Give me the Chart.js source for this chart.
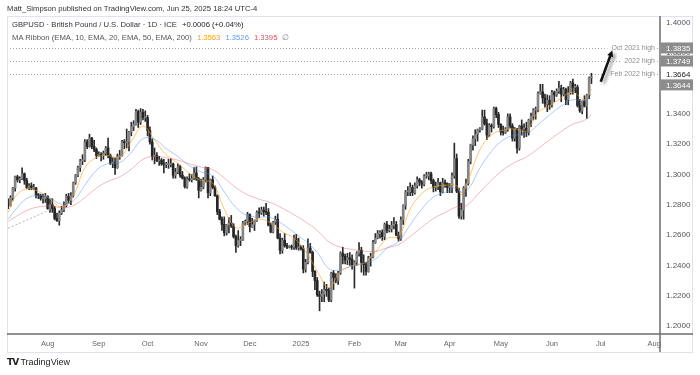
<!DOCTYPE html>
<html>
<head>
<meta charset="utf-8">
<title>GBPUSD 1D</title>
<script src="https://cdn.jsdelivr.net/npm/chart.js@4.4.1/dist/chart.umd.min.js"></script>
<style>
  html, body { margin: 0; padding: 0; background: #fff; }
  #wrap { position: relative; width: 700px; height: 375px; font-family: "Liberation Sans", Arial, sans-serif; }
  #chart { position: absolute; left: 0; top: 0; }
  .txt { position: absolute; white-space: nowrap; line-height: 1; }
  .sp { margin-left: 5px; }
</style>
</head>
<body>
<div id="wrap">
  <canvas id="chart" width="700" height="375"></canvas>
  <div class="txt" style="left:7px;top:5px;font-size:7.7px;color:#333">Matt_Simpson published on TradingView.com, Jun 25, 2025 18:24 UTC-4</div>
  <div class="txt" style="left:12px;top:21px;font-size:7.7px;color:#333">GBPUSD · British Pound / U.S. Dollar · 1D · ICE<span class="sp" style="color:#222">+0.0006 (+0.04%)</span></div>
  <div class="txt" style="left:12px;top:34px;font-size:7.7px;color:#555">MA Ribbon (EMA, 10, EMA, 20, EMA, 50, EMA, 200)<span class="sp" style="color:#f7a21b">1.3563</span><span class="sp" style="color:#5b9cf6">1.3526</span><span class="sp" style="color:#e0505e">1.3395</span><span class="sp" style="color:#888">∅</span></div>
  <div class="txt" style="left:7px;top:358px;font-size:9px;color:#222"><b style="font-family:'DejaVu Sans';font-size:9px;letter-spacing:-1px">TV</b> TradingView</div>
</div>
<script>
// trading days on the axis (weekdays), data runs to Jun 25 2025
const firstDay = '2024-07-09';
const lastDay = '2025-08-05';
const monthTickLabels = ['2025', 'Feb', 'Mar', 'Apr', 'May', 'Jun', 'Jul', 'Aug', 'Sep', 'Oct', 'Nov', 'Dec'];

// daily OHLC, one line per month (Jul 2024 .. Jun 2025)
const openPrices = [
  1.2810,1.2795,1.2845,1.2910,1.2985,1.2965,1.2970,1.3005,1.2960,1.2915,1.2925,1.2910,1.2910,1.2865,1.2860,1.2840,1.2840,
  1.2855,1.2775,1.2800,1.2775,1.2710,1.2695,1.2745,1.2765,1.2795,1.2855,1.2830,1.2860,1.2945,1.2995,1.3045,1.3090,1.3095,1.3215,1.3185,1.3240,1.3185,1.3165,
  1.3125,1.3130,1.3125,1.3140,1.3175,1.3125,1.3075,1.3080,1.3045,1.3120,1.3125,1.3215,1.3210,1.3215,1.3280,1.3315,1.3330,1.3415,1.3345,1.3410,1.3375,
  1.3375,1.3290,1.3215,1.3120,1.3125,1.3090,1.3095,1.3070,1.3065,1.3065,1.3065,1.3070,1.2995,1.3015,1.3050,1.2995,1.2975,1.2920,1.2970,1.2965,1.2975,1.3010,1.2970,
  1.2895,1.2915,1.2965,1.3045,1.2880,1.2965,1.2915,1.2860,1.2755,1.2705,1.2670,1.2615,1.2665,1.2680,1.2660,1.2590,1.2530,1.2565,1.2570,1.2680,1.2690,
  1.2735,1.2655,1.2670,1.2695,1.2750,1.2745,1.2765,1.2755,1.2750,1.2665,1.2620,1.2685,1.2705,1.2580,1.2500,1.2565,1.2530,1.2520,1.2525,1.2520,1.2575,1.2515,
  1.2515,1.2510,1.2375,1.2420,1.2515,1.2485,1.2360,1.2300,1.2205,1.2195,1.2210,1.2240,1.2235,1.2170,1.2350,1.2320,1.2300,1.2350,1.2480,1.2460,1.2435,1.2450,1.2440,
  1.2400,1.2420,1.2480,1.2500,1.2420,1.2405,1.2360,1.2450,1.2455,1.2550,1.2580,1.2610,1.2620,1.2590,1.2670,1.2630,1.2640,1.2665,1.2670,1.2600,
  1.2575,1.2700,1.2795,1.2885,1.2885,1.2915,1.2880,1.2925,1.2965,1.2950,1.2935,1.2990,1.2990,1.3005,1.2960,1.2915,1.2920,1.2945,1.2885,1.2945,1.2940,
  1.2915,1.2915,1.2990,1.3105,1.2890,1.2725,1.2765,1.2910,1.2940,1.3085,1.3195,1.3235,1.3265,1.3295,1.3300,1.3380,1.3335,1.3260,1.3325,1.3315,1.3435,1.3395,
  1.3330,1.3280,1.3275,1.3300,1.3380,1.3320,1.3240,1.3300,1.3175,1.3320,1.3300,1.3305,1.3280,1.3360,1.3385,1.3425,1.3425,1.3535,1.3545,1.3505,1.3465,1.3490,
  1.3460,1.3540,1.3525,1.3550,1.3570,1.3530,1.3560,1.3495,1.3540,1.3605,1.3575,1.3575,1.3455,1.3420,1.3485,1.3450,1.3525,1.3638
];
const highPrices = [
  1.2840,1.2860,1.2915,1.2990,1.2995,1.2985,1.3044,1.3010,1.2975,1.2940,1.2945,1.2935,1.2915,1.2875,1.2870,1.2870,1.2875,
  1.2860,1.2840,1.2840,1.2790,1.2745,1.2760,1.2790,1.2820,1.2870,1.2875,1.2880,1.2950,1.3000,1.3055,1.3100,1.3130,1.3230,1.3230,1.3266,1.3245,1.3225,1.3175,
  1.3150,1.3145,1.3155,1.3185,1.3240,1.3135,1.3110,1.3110,1.3135,1.3160,1.3225,1.3230,1.3300,1.3285,1.3345,1.3355,1.3430,1.3425,1.3435,1.3430,1.3420,
  1.3390,1.3315,1.3235,1.3175,1.3145,1.3120,1.3105,1.3100,1.3080,1.3100,1.3105,1.3075,1.3040,1.3070,1.3060,1.3020,1.2985,1.2985,1.3005,1.3000,1.3045,1.3050,1.2980,
  1.2970,1.2980,1.3050,1.3047,1.2970,1.2990,1.2925,1.2865,1.2770,1.2720,1.2720,1.2670,1.2715,1.2730,1.2675,1.2600,1.2630,1.2590,1.2690,1.2700,1.2750,
  1.2740,1.2710,1.2700,1.2760,1.2780,1.2785,1.2785,1.2810,1.2775,1.2680,1.2690,1.2725,1.2740,1.2610,1.2580,1.2610,1.2545,1.2530,1.2535,1.2600,1.2605,1.2580,
  1.2530,1.2530,1.2440,1.2575,1.2545,1.2495,1.2365,1.2320,1.2230,1.2240,1.2290,1.2275,1.2250,1.2355,1.2365,1.2345,1.2360,1.2490,1.2520,1.2475,1.2480,1.2485,1.2470,
  1.2430,1.2490,1.2550,1.2520,1.2470,1.2420,1.2460,1.2480,1.2565,1.2610,1.2630,1.2630,1.2635,1.2680,1.2690,1.2665,1.2690,1.2715,1.2690,1.2620,
  1.2720,1.2800,1.2895,1.2920,1.2945,1.2930,1.2945,1.2985,1.2975,1.2960,1.3000,1.3015,1.3015,1.3015,1.2970,1.2950,1.2975,1.2950,1.2975,1.2965,1.2945,
  1.2940,1.3010,1.3207,1.3135,1.2910,1.2810,1.2920,1.2970,1.3100,1.3200,1.3255,1.3295,1.3300,1.3310,1.3425,1.3425,1.3365,1.3335,1.3335,1.3445,1.3445,1.3410,
  1.3335,1.3320,1.3310,1.3400,1.3400,1.3335,1.3310,1.3305,1.3325,1.3360,1.3335,1.3345,1.3365,1.3405,1.3435,1.3445,1.3545,1.3595,1.3595,1.3530,1.3525,1.3520,
  1.3555,1.3550,1.3565,1.3615,1.3590,1.3575,1.3570,1.3580,1.3615,1.3630,1.3595,1.3590,1.3495,1.3485,1.3520,1.3530,1.3645,1.3668
];
const lowPrices = [
  1.2775,1.2790,1.2830,1.2890,1.2950,1.2945,1.2965,1.2935,1.2905,1.2900,1.2900,1.2900,1.2845,1.2840,1.2830,1.2810,1.2815,
  1.2770,1.2750,1.2750,1.2700,1.2690,1.2665,1.2735,1.2755,1.2785,1.2810,1.2800,1.2850,1.2935,1.2985,1.3020,1.3065,1.3085,1.3170,1.3180,1.3170,1.3150,1.3105,
  1.3120,1.3090,1.3100,1.3125,1.3110,1.3065,1.3045,1.3000,1.3040,1.3100,1.3120,1.3170,1.3175,1.3155,1.3255,1.3290,1.3325,1.3310,1.3330,1.3360,1.3350,
  1.3255,1.3200,1.3095,1.3070,1.3085,1.3060,1.3060,1.3010,1.3045,1.3040,1.3050,1.2975,1.2975,1.3005,1.2980,1.2970,1.2910,1.2910,1.2955,1.2950,1.2965,1.2960,1.2845,
  1.2890,1.2905,1.2950,1.2845,1.2860,1.2905,1.2855,1.2735,1.2700,1.2630,1.2595,1.2600,1.2615,1.2650,1.2580,1.2485,1.2520,1.2530,1.2565,1.2665,1.2670,
  1.2620,1.2650,1.2630,1.2690,1.2715,1.2735,1.2725,1.2735,1.2660,1.2615,1.2615,1.2670,1.2575,1.2475,1.2480,1.2520,1.2510,1.2515,1.2505,1.2505,1.2505,1.2500,
  1.2500,1.2350,1.2355,1.2410,1.2480,1.2325,1.2240,1.2195,1.2100,1.2160,1.2160,1.2195,1.2160,1.2160,1.2240,1.2285,1.2275,1.2340,1.2410,1.2410,1.2405,1.2400,1.2375,
  1.2250,1.2400,1.2460,1.2355,1.2335,1.2335,1.2355,1.2395,1.2450,1.2545,1.2575,1.2580,1.2565,1.2570,1.2615,1.2620,1.2620,1.2640,1.2595,1.2560,
  1.2565,1.2670,1.2770,1.2860,1.2860,1.2860,1.2870,1.2910,1.2925,1.2910,1.2925,1.2975,1.2965,1.2940,1.2885,1.2890,1.2900,1.2860,1.2880,1.2915,1.2880,
  1.2880,1.2880,1.2975,1.2880,1.2710,1.2705,1.2705,1.2855,1.2930,1.3070,1.3160,1.3190,1.3220,1.3280,1.3295,1.3325,1.3230,1.3250,1.3280,1.3305,1.3375,1.3310,
  1.3260,1.3260,1.3270,1.3285,1.3305,1.3220,1.3220,1.3140,1.3160,1.3260,1.3245,1.3250,1.3260,1.3315,1.3360,1.3365,1.3415,1.3530,1.3470,1.3445,1.3415,1.3430,
  1.3445,1.3480,1.3515,1.3535,1.3480,1.3520,1.3460,1.3460,1.3530,1.3530,1.3540,1.3445,1.3410,1.3400,1.3445,1.3370,1.3500,1.3600
];
const closePrices = [
  1.2795,1.2845,1.2910,1.2985,1.2965,1.2970,1.3005,1.2960,1.2915,1.2925,1.2910,1.2910,1.2865,1.2860,1.2840,1.2840,1.2855,
  1.2775,1.2800,1.2775,1.2710,1.2695,1.2745,1.2765,1.2795,1.2855,1.2830,1.2860,1.2945,1.2995,1.3045,1.3090,1.3095,1.3215,1.3185,1.3240,1.3185,1.3165,1.3125,
  1.3130,1.3125,1.3140,1.3175,1.3125,1.3075,1.3080,1.3045,1.3120,1.3125,1.3215,1.3210,1.3215,1.3280,1.3315,1.3330,1.3415,1.3345,1.3410,1.3375,1.3375,
  1.3290,1.3215,1.3120,1.3125,1.3090,1.3095,1.3070,1.3065,1.3065,1.3065,1.3070,1.2995,1.3015,1.3050,1.2995,1.2975,1.2920,1.2970,1.2965,1.2975,1.3010,1.2970,1.2895,
  1.2915,1.2965,1.3045,1.2880,1.2965,1.2915,1.2860,1.2755,1.2705,1.2670,1.2615,1.2665,1.2680,1.2660,1.2590,1.2530,1.2565,1.2570,1.2680,1.2690,1.2735,
  1.2655,1.2670,1.2695,1.2750,1.2745,1.2765,1.2755,1.2750,1.2665,1.2620,1.2685,1.2705,1.2580,1.2500,1.2565,1.2530,1.2520,1.2525,1.2520,1.2575,1.2515,1.2515,
  1.2510,1.2375,1.2420,1.2515,1.2485,1.2360,1.2300,1.2205,1.2195,1.2210,1.2240,1.2235,1.2170,1.2350,1.2320,1.2300,1.2350,1.2480,1.2460,1.2435,1.2450,1.2440,1.2400,
  1.2420,1.2480,1.2500,1.2420,1.2405,1.2360,1.2450,1.2455,1.2550,1.2580,1.2610,1.2620,1.2590,1.2670,1.2630,1.2640,1.2665,1.2670,1.2600,1.2575,
  1.2700,1.2795,1.2885,1.2885,1.2915,1.2880,1.2925,1.2965,1.2950,1.2935,1.2990,1.2990,1.3005,1.2960,1.2915,1.2920,1.2945,1.2885,1.2945,1.2940,1.2915,
  1.2915,1.2990,1.3105,1.2890,1.2725,1.2765,1.2910,1.2940,1.3085,1.3195,1.3235,1.3265,1.3295,1.3300,1.3380,1.3335,1.3260,1.3325,1.3315,1.3435,1.3395,1.3330,
  1.3280,1.3275,1.3300,1.3380,1.3320,1.3240,1.3300,1.3175,1.3320,1.3300,1.3305,1.3280,1.3360,1.3385,1.3425,1.3425,1.3535,1.3545,1.3505,1.3465,1.3490,1.3460,
  1.3540,1.3525,1.3550,1.3570,1.3530,1.3560,1.3495,1.3540,1.3605,1.3575,1.3575,1.3455,1.3420,1.3485,1.3450,1.3525,1.3638,1.3644
];

// MA ribbon, read off the picture roughly once a week
const maDates = [
  '2024-07-09','2024-07-12','2024-07-19','2024-07-26','2024-08-02','2024-08-09','2024-08-16','2024-08-23','2024-08-30',
  '2024-09-06','2024-09-13','2024-09-20','2024-09-27','2024-10-04','2024-10-11','2024-10-18','2024-10-25','2024-11-01',
  '2024-11-08','2024-11-15','2024-11-22','2024-11-29','2024-12-06','2024-12-13','2024-12-20','2024-12-27','2025-01-03',
  '2025-01-10','2025-01-17','2025-01-24','2025-01-31','2025-02-07','2025-02-14','2025-02-21','2025-02-28','2025-03-07',
  '2025-03-14','2025-03-21','2025-03-28','2025-04-04','2025-04-08','2025-04-11','2025-04-18','2025-04-25','2025-05-02',
  '2025-05-09','2025-05-16','2025-05-23','2025-05-30','2025-06-06','2025-06-13','2025-06-20','2025-06-25'
];
const ema10Values = [
  1.2750,1.2852,1.2907,1.2888,1.2839,1.2784,1.2858,1.3044,1.3113,
  1.3125,1.3114,1.3220,1.3319,1.3228,1.3128,1.3076,1.3006,1.2960,
  1.2944,1.2770,1.2648,1.2676,1.2706,1.2680,1.2621,1.2579,1.2493,
  1.2363,1.2253,1.2359,1.2397,1.2414,1.2488,1.2577,1.2593,1.2772,
  1.2875,1.2918,1.2928,1.2927,1.2867,1.2963,1.3163,1.3262,1.3292,
  1.3300,1.3286,1.3410,1.3452,1.3505,1.3543,1.3493,1.3563
];
const ema20Values = [
  1.2705,1.2764,1.2842,1.2862,1.2846,1.2804,1.2825,1.2929,1.3028,
  1.3072,1.3079,1.3145,1.3236,1.3232,1.3171,1.3119,1.3058,1.3016,
  1.2992,1.2885,1.2782,1.2729,1.2719,1.2716,1.2673,1.2618,1.2559,
  1.2486,1.2378,1.2371,1.2397,1.2416,1.2441,1.2513,1.2559,1.2668,
  1.2772,1.2851,1.2881,1.2913,1.2883,1.2902,1.3043,1.3153,1.3228,
  1.3259,1.3266,1.3329,1.3393,1.3452,1.3493,1.3487,1.3526
];
const ema50Values = [
  1.2690,1.2719,1.2762,1.2786,1.2792,1.2782,1.2795,1.2848,1.2910,
  1.2955,1.2985,1.3035,1.3100,1.3120,1.3110,1.3095,1.3070,1.3049,
  1.3032,1.2976,1.2913,1.2866,1.2837,1.2814,1.2777,1.2734,1.2687,
  1.2631,1.2556,1.2520,1.2505,1.2495,1.2492,1.2516,1.2537,1.2591,
  1.2652,1.2709,1.2748,1.2786,1.2782,1.2803,1.2884,1.2963,1.3031,
  1.3080,1.3115,1.3170,1.3228,1.3284,1.3332,1.3358,1.3395
];

// dotted trend line at the far left
const trendDates = ['2024-07-09', '2024-08-02'];
const trendValues = [1.2645, 1.2766];

// horizontal levels and their names
const levelPrices = [1.3835, 1.3749, 1.3664];
const levelNames = ['Oct 2021 high', '2022 high', 'Feb 2022 high'];
const lastPrice = 1.3644;

// arrow drawn on the chart: [date, price]
const arrowFrom = ['2025-07-01', 1.3612];
const arrowTo = ['2025-07-08', 1.3820];

function tradingDays(from, to) {
  const out = [];
  const d = new Date(from + 'T00:00:00Z');
  const end = new Date(to + 'T00:00:00Z');
  while (d <= end) {
    const wd = d.getUTCDay();
    if (wd !== 0 && wd !== 6) out.push(d.toISOString().slice(0, 10));
    d.setUTCDate(d.getUTCDate() + 1);
  }
  return out;
}

const dayLabels = tradingDays(firstDay, lastDay);
const FONT = '"Liberation Sans", Arial, sans-serif';

const wicks = highPrices.map((h, i) => [lowPrices[i], h]);
const bodies = openPrices.map((o, i) => [o, closePrices[i]]);
const bodyColors = openPrices.map((o, i) => (closePrices[i] >= o ? '#858585' : '#262626'));

function points(dates, values) {
  return dates.map((d, i) => ({ x: d, y: values[i] }));
}

function lineSet(data, color) {
  return {
    type: 'line',
    data: data,
    borderColor: color,
    borderWidth: 1,
    pointRadius: 0,
    tension: 0.4,
    order: 1,
  };
}

function priceTag(ctx, x0, w, yc, text, bg, fg) {
  ctx.fillStyle = bg;
  ctx.fillRect(x0, yc - 5.5, w, 11);
  ctx.fillStyle = fg;
  ctx.textAlign = 'left';
  ctx.textBaseline = 'middle';
  ctx.fillText(text, x0 + 5, yc + 0.5);
}

const overlay = {
  id: 'overlay',
  afterDatasetsDraw(chart) {
    const { ctx, chartArea: a, scales } = chart;
    const x = scales.x, y = scales.y;
    ctx.save();
    ctx.font = '7px ' + FONT;
    ctx.textBaseline = 'middle';
    ctx.textAlign = 'right';
    levelPrices.forEach((p, i) => {
      const py = Math.round(y.getPixelForValue(p)) + 0.5;
      const tw = ctx.measureText(levelNames[i]).width;
      const textRight = a.right - 5;
      ctx.strokeStyle = '#a6a6a6';
      ctx.lineWidth = 1;
      ctx.setLineDash([1, 2]);
      ctx.beginPath();
      ctx.moveTo(a.left, py);
      ctx.lineTo(textRight - tw - 4, py);
      ctx.moveTo(textRight + 2, py);
      ctx.lineTo(a.right, py);
      ctx.stroke();
      ctx.setLineDash([]);
      ctx.fillStyle = '#8e8e8e';
      ctx.fillText(levelNames[i], textRight, py);
    });

    // arrow
    const x1 = x.getPixelForValue(dayLabels.indexOf(arrowFrom[0]));
    const y1 = y.getPixelForValue(arrowFrom[1]);
    const x2 = x.getPixelForValue(dayLabels.indexOf(arrowTo[0]));
    const y2 = y.getPixelForValue(arrowTo[1]);
    const ang = Math.atan2(y2 - y1, x2 - x1);
    const head = 7;
    ctx.shadowColor = 'rgba(0,0,0,0.35)';
    ctx.shadowBlur = 3;
    ctx.shadowOffsetX = 3;
    ctx.shadowOffsetY = 2;
    ctx.strokeStyle = '#111';
    ctx.fillStyle = '#111';
    ctx.lineWidth = 2.5;
    ctx.beginPath();
    ctx.moveTo(x1, y1);
    ctx.lineTo(x2 - Math.cos(ang) * head * 0.8, y2 - Math.sin(ang) * head * 0.8);
    ctx.stroke();
    ctx.beginPath();
    ctx.moveTo(x2, y2);
    ctx.lineTo(x2 - head * Math.cos(ang - 0.45), y2 - head * Math.sin(ang - 0.45));
    ctx.lineTo(x2 - head * Math.cos(ang + 0.45), y2 - head * Math.sin(ang + 0.45));
    ctx.closePath();
    ctx.fill();
    ctx.restore();
  },
  afterDraw(chart) {
    const { ctx, chartArea: a, scales } = chart;
    const y = scales.y;
    const W = chart.width, H = chart.height;
    ctx.save();
    // outer frame
    ctx.strokeStyle = '#e0e3eb';
    ctx.lineWidth = 1;
    ctx.strokeRect(a.left + 0.5, a.top + 0.5, W - 7 - a.left - 1, H - 23 - a.top);
    // axis lines
    ctx.strokeStyle = '#6e6e6e';
    ctx.lineWidth = 1.5;
    ctx.beginPath();
    ctx.moveTo(a.right, a.top);
    ctx.lineTo(a.right, H - 23);
    ctx.moveTo(a.left, a.bottom);
    ctx.lineTo(W - 7, a.bottom);
    ctx.stroke();

    // price tags on the right axis
    ctx.font = '8px ' + FONT;
    const x0 = a.right + 1;
    const w = W - 7 - x0;
    priceTag(ctx, x0, w, y.getPixelForValue(levelPrices[0]), levelPrices[0].toFixed(4), '#8c8c8c', '#fff');
    priceTag(ctx, x0, w, y.getPixelForValue(levelPrices[1]), levelPrices[1].toFixed(4), '#8c8c8c', '#fff');
    const yLvl = y.getPixelForValue(levelPrices[2]);
    priceTag(ctx, x0, w, yLvl, levelPrices[2].toFixed(4), '#fff', '#222');
    const yLast = Math.max(y.getPixelForValue(lastPrice), yLvl + 11);
    priceTag(ctx, x0, w, yLast, lastPrice.toFixed(4), '#8c8c8c', '#fff');
    ctx.restore();
  },
};

new Chart(document.getElementById('chart'), {
  type: 'bar',
  data: {
    labels: dayLabels,
    datasets: [
      { data: wicks, backgroundColor: '#2a2a2a', barThickness: 1, grouped: false, order: 3 },
      { data: bodies, backgroundColor: bodyColors, barThickness: 2, minBarLength: 1, grouped: false, order: 2 },
      lineSet(points(maDates, ema50Values), 'rgba(224,80,94,0.4)'),
      lineSet(points(maDates, ema20Values), 'rgba(70,140,240,0.45)'),
      lineSet(points(maDates, ema10Values), 'rgba(247,162,27,0.6)'),
      {
        type: 'line',
        data: points(trendDates, trendValues),
        borderColor: '#b5b5b5',
        borderWidth: 1,
        borderDash: [2, 2],
        pointRadius: 0,
        order: 1,
      },
    ],
  },
  options: {
    responsive: false,
    animation: false,
    layout: { padding: { left: 7, top: 16, right: 7, bottom: 23 } },
    plugins: { legend: { display: false }, tooltip: { enabled: false } },
    scales: {
      x: {
        grid: { display: false, drawTicks: false },
        border: { display: false },
        ticks: {
          autoSkip: false,
          maxRotation: 0,
          padding: 5,
          color: '#666',
          font: { family: FONT, size: 7.5 },
          callback: function (value, index) {
            if (index === 0) return '';
            const m = dayLabels[index].slice(5, 7);
            if (m === dayLabels[index - 1].slice(5, 7)) return '';
            return monthTickLabels[Number(m) - 1];
          },
        },
        afterFit(scale) { scale.height = 18; },
      },
      y: {
        position: 'right',
        min: 1.1947,
        max: 1.4046,
        grid: { display: false, drawTicks: false },
        border: { display: false },
        ticks: {
          stepSize: 0.02,
          includeBounds: false,
          autoSkip: false,
          padding: 6,
          color: '#555',
          font: { family: FONT, size: 8 },
          callback: (v) => v.toFixed(4),
        },
        afterFit(scale) { scale.width = 33; },
      },
    },
  },
  plugins: [overlay],
});
</script>
</body>
</html>
